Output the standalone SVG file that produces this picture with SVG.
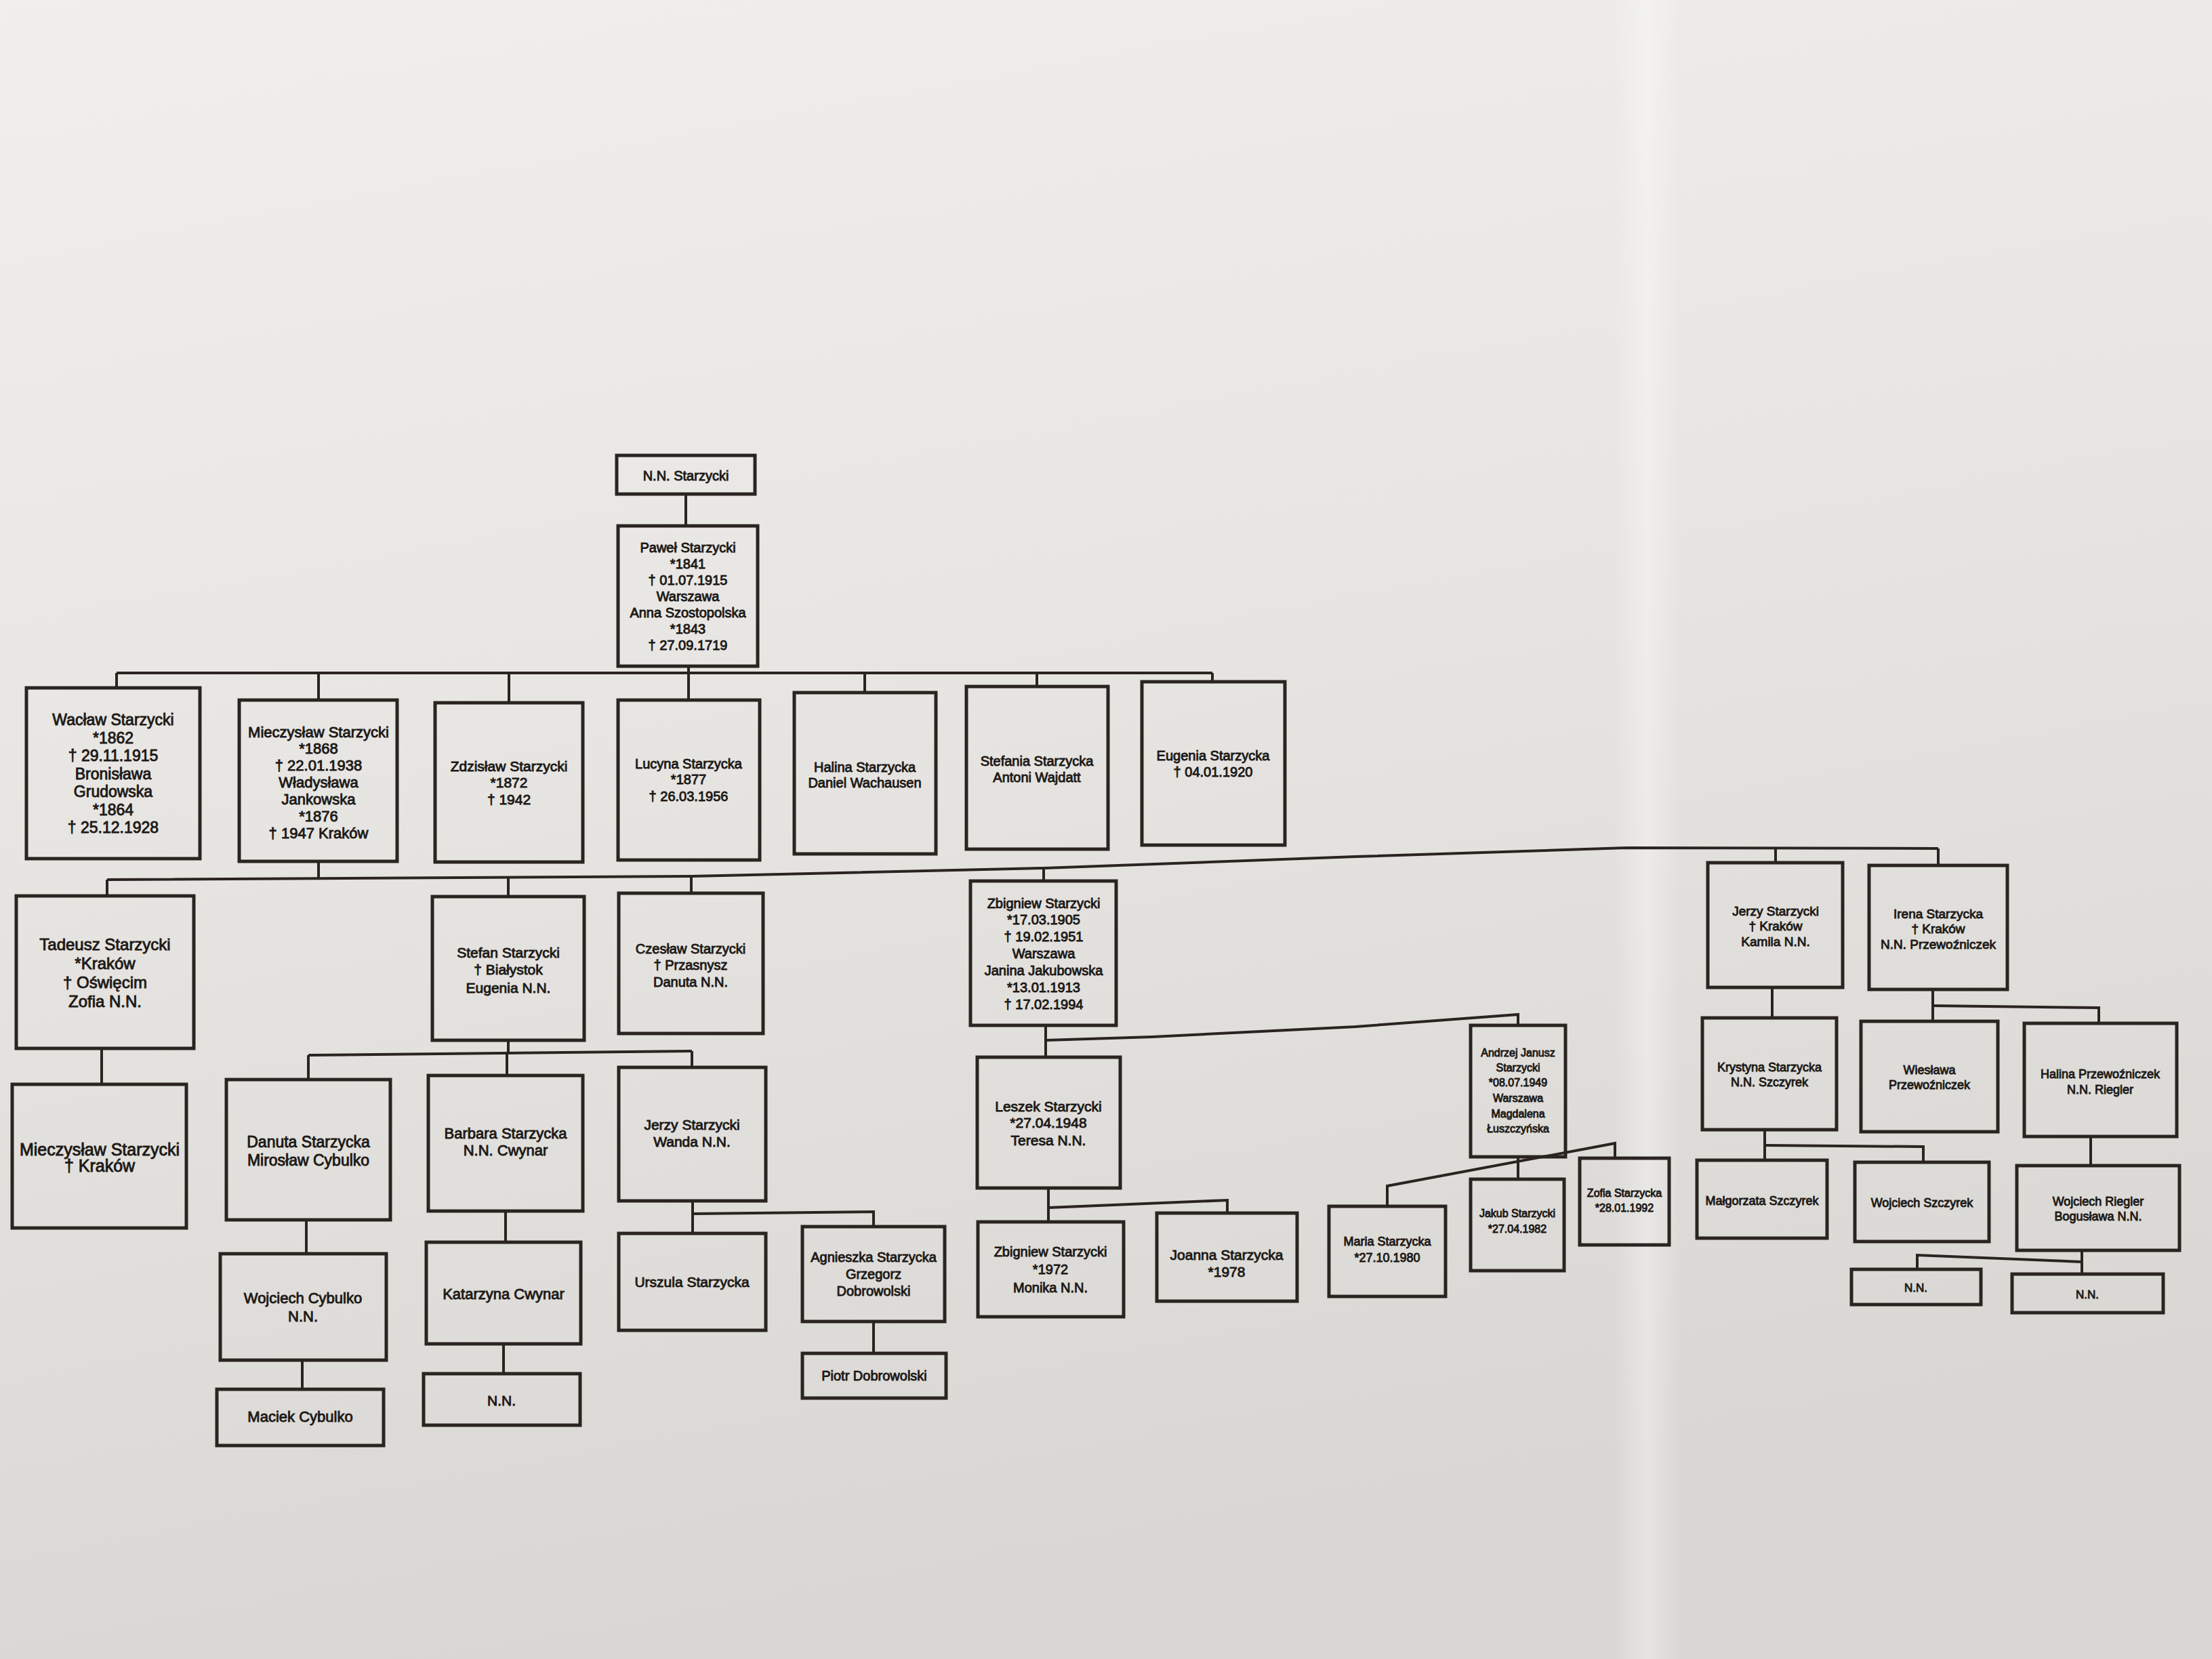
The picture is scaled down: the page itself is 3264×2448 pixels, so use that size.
<svg xmlns="http://www.w3.org/2000/svg" width="3264" height="2448" viewBox="0 0 3264 2448">
<defs>
<linearGradient id="paper" x1="0" y1="0" x2="0.25" y2="1">
<stop offset="0" stop-color="#f0efed"/>
<stop offset="0.45" stop-color="#e8e6e3"/>
<stop offset="1" stop-color="#d9d7d3"/>
</linearGradient>
<linearGradient id="crease" x1="0" y1="0" x2="1" y2="0">
<stop offset="0" stop-color="#ffffff" stop-opacity="0"/>
<stop offset="0.5" stop-color="#ffffff" stop-opacity="0.35"/>
<stop offset="1" stop-color="#ffffff" stop-opacity="0"/>
</linearGradient>
<style>
.box{fill:none;stroke:#2a2420;stroke-width:5;stroke-linejoin:miter}
.ln{fill:none;stroke:#2a2420;stroke-width:4}
text{font-family:"Liberation Sans",Arial,sans-serif;fill:#1c1916;stroke:#1c1916;stroke-width:0.9;text-anchor:middle}
.f16{font-size:16px}.f17{font-size:17px}.f18{font-size:18px}.f19{font-size:19px}.f20{font-size:20px}.f21{font-size:21px}.f22{font-size:22px}.f23{font-size:23px}.f24{font-size:24px}.f25{font-size:25px}
</style>
</defs>
<rect x="0" y="0" width="3264" height="2448" fill="url(#paper)"/>
<rect x="2380" y="0" width="100" height="2448" fill="url(#crease)"/>

<g id="connectors">
<line class="ln" x1="1012" y1="729" x2="1012" y2="776"/>
<line class="ln" x1="1016" y1="983" x2="1016" y2="1033"/>
<line class="ln" x1="172" y1="993" x2="1789" y2="993"/>
<line class="ln" x1="172" y1="993" x2="172" y2="1015"/>
<line class="ln" x1="470" y1="993" x2="470" y2="1033"/>
<line class="ln" x1="751" y1="993" x2="751" y2="1037"/>
<line class="ln" x1="1276" y1="993" x2="1276" y2="1022"/>
<line class="ln" x1="1530" y1="993" x2="1530" y2="1013"/>
<line class="ln" x1="1789" y1="993" x2="1789" y2="1006"/>

<line class="ln" x1="470" y1="1271" x2="470" y2="1296"/>
<polyline class="ln" points="158,1298 1020,1293 1540,1281 2000,1264 2400,1251 2860,1252"/>
<line class="ln" x1="158" y1="1298" x2="158" y2="1322"/>
<line class="ln" x1="750" y1="1294" x2="750" y2="1323"/>
<line class="ln" x1="1020" y1="1293" x2="1020" y2="1318"/>
<line class="ln" x1="1540" y1="1281" x2="1540" y2="1300"/>
<line class="ln" x1="2620" y1="1252" x2="2620" y2="1273"/>
<line class="ln" x1="2860" y1="1252" x2="2860" y2="1277"/>

<line class="ln" x1="150" y1="1547" x2="150" y2="1600"/>
<line class="ln" x1="750" y1="1535" x2="750" y2="1554"/>
<line class="ln" x1="455" y1="1557" x2="1021" y2="1551"/>
<line class="ln" x1="455" y1="1557" x2="455" y2="1593"/>
<line class="ln" x1="748" y1="1554" x2="748" y2="1587"/>
<line class="ln" x1="1021" y1="1551" x2="1021" y2="1575"/>

<line class="ln" x1="1543" y1="1513" x2="1543" y2="1560"/>
<polyline class="ln" points="1543,1535 1700,1530 2000,1515 2240,1497 2240,1513"/>

<line class="ln" x1="2615" y1="1457" x2="2615" y2="1502"/>
<line class="ln" x1="2852" y1="1460" x2="2852" y2="1507"/>
<polyline class="ln" points="2852,1484 3097,1487 3097,1510"/>

<line class="ln" x1="452" y1="1800" x2="452" y2="1850"/>
<line class="ln" x1="746" y1="1787" x2="746" y2="1833"/>
<line class="ln" x1="1022" y1="1772" x2="1022" y2="1820"/>
<polyline class="ln" points="1022,1791 1289,1788 1289,1810"/>

<line class="ln" x1="1547" y1="1753" x2="1547" y2="1803"/>
<polyline class="ln" points="1547,1782 1811,1771 1811,1790"/>

<line class="ln" x1="2240" y1="1707" x2="2240" y2="1740"/>
<polyline class="ln" points="2047,1780 2047,1750 2383,1687 2383,1709"/>

<line class="ln" x1="2604" y1="1667" x2="2604" y2="1712"/>
<polyline class="ln" points="2604,1690 2838,1692 2838,1715"/>
<line class="ln" x1="3085" y1="1677" x2="3085" y2="1720"/>

<line class="ln" x1="446" y1="2007" x2="446" y2="2050"/>
<line class="ln" x1="743" y1="1983" x2="743" y2="2027"/>
<line class="ln" x1="1289" y1="1950" x2="1289" y2="1997"/>
<line class="ln" x1="3072" y1="1845" x2="3072" y2="1880"/>
<polyline class="ln" points="2829,1873 2829,1852 3072,1862"/>
</g>

<g id="nn_top"><rect class="box" x="910" y="672" width="204" height="57"/>
<text class="f20"><tspan x="1012" y="709">N.N. Starzycki</tspan></text></g>

<g id="pawel"><rect class="box" x="912" y="776" width="206" height="207"/>
<text class="f20"><tspan x="1015" y="815">Paweł Starzycki</tspan><tspan x="1015" y="839">*1841</tspan><tspan x="1015" y="863">† 01.07.1915</tspan><tspan x="1015" y="887">Warszawa</tspan><tspan x="1015" y="911">Anna Szostopolska</tspan><tspan x="1015" y="935">*1843</tspan><tspan x="1015" y="959">† 27.09.1719</tspan></text></g>

<g id="waclaw"><rect class="box" x="39" y="1015" width="256" height="252"/>
<text class="f23"><tspan x="167" y="1070">Wacław Starzycki</tspan><tspan x="167" y="1097">*1862</tspan><tspan x="167" y="1123">† 29.11.1915</tspan><tspan x="167" y="1150">Bronisława</tspan><tspan x="167" y="1176">Grudowska</tspan><tspan x="167" y="1203">*1864</tspan><tspan x="167" y="1229">† 25.12.1928</tspan></text></g>

<g id="mieczyslaw"><rect class="box" x="353" y="1033" width="233" height="238"/>
<text class="f22"><tspan x="470" y="1088">Mieczysław Starzycki</tspan><tspan x="470" y="1112">*1868</tspan><tspan x="470" y="1137">† 22.01.1938</tspan><tspan x="470" y="1162">Władysława</tspan><tspan x="470" y="1187">Jankowska</tspan><tspan x="470" y="1212">*1876</tspan><tspan x="470" y="1237">† 1947 Kraków</tspan></text></g>

<g id="zdzislaw"><rect class="box" x="642" y="1037" width="218" height="235"/>
<text class="f21"><tspan x="751" y="1138">Zdzisław Starzycki</tspan><tspan x="751" y="1162">*1872</tspan><tspan x="751" y="1187">† 1942</tspan></text></g>

<g id="lucyna"><rect class="box" x="912" y="1033" width="209" height="236"/>
<text class="f20"><tspan x="1016" y="1134">Lucyna Starzycka</tspan><tspan x="1016" y="1157">*1877</tspan><tspan x="1016" y="1182">† 26.03.1956</tspan></text></g>

<g id="halina"><rect class="box" x="1172" y="1022" width="209" height="238"/>
<text class="f20"><tspan x="1276" y="1139">Halina Starzycka</tspan><tspan x="1276" y="1162">Daniel Wachausen</tspan></text></g>

<g id="stefania"><rect class="box" x="1426" y="1013" width="209" height="240"/>
<text class="f20"><tspan x="1530" y="1130">Stefania Starzycka</tspan><tspan x="1530" y="1154">Antoni Wajdatt</tspan></text></g>

<g id="eugenia"><rect class="box" x="1685" y="1006" width="211" height="241"/>
<text class="f20"><tspan x="1790" y="1122">Eugenia Starzycka</tspan><tspan x="1790" y="1146">† 04.01.1920</tspan></text></g>

<g id="tadeusz"><rect class="box" x="24" y="1322" width="262" height="225"/>
<text class="f24"><tspan x="155" y="1402">Tadeusz Starzycki</tspan><tspan x="155" y="1430">*Kraków</tspan><tspan x="155" y="1458">† Oświęcim</tspan><tspan x="155" y="1486">Zofia N.N.</tspan></text></g>

<g id="stefan"><rect class="box" x="638" y="1323" width="224" height="212"/>
<text class="f21"><tspan x="750" y="1413">Stefan Starzycki</tspan><tspan x="750" y="1438">† Białystok</tspan><tspan x="750" y="1465">Eugenia N.N.</tspan></text></g>

<g id="czeslaw"><rect class="box" x="913" y="1318" width="213" height="207"/>
<text class="f20"><tspan x="1019" y="1407">Czesław Starzycki</tspan><tspan x="1019" y="1431">† Przasnysz</tspan><tspan x="1019" y="1456">Danuta N.N.</tspan></text></g>

<g id="zbigniew"><rect class="box" x="1432" y="1300" width="215" height="213"/>
<text class="f20"><tspan x="1540" y="1340">Zbigniew Starzycki</tspan><tspan x="1540" y="1364">*17.03.1905</tspan><tspan x="1540" y="1389">† 19.02.1951</tspan><tspan x="1540" y="1414">Warszawa</tspan><tspan x="1540" y="1439">Janina Jakubowska</tspan><tspan x="1540" y="1464">*13.01.1913</tspan><tspan x="1540" y="1489">† 17.02.1994</tspan></text></g>

<g id="jerzy_krakow"><rect class="box" x="2520" y="1273" width="199" height="184"/>
<text class="f19"><tspan x="2620" y="1351">Jerzy Starzycki</tspan><tspan x="2620" y="1373">† Kraków</tspan><tspan x="2620" y="1396">Kamila N.N.</tspan></text></g>

<g id="irena"><rect class="box" x="2758" y="1277" width="204" height="183"/>
<text class="f19"><tspan x="2860" y="1355">Irena Starzycka</tspan><tspan x="2860" y="1377">† Kraków</tspan><tspan x="2860" y="1400">N.N. Przewoźniczek</tspan></text></g>

<g id="mieczyslaw_jr"><rect class="box" x="18" y="1600" width="257" height="212"/>
<text class="f25"><tspan x="147" y="1705">Mieczysław Starzycki</tspan><tspan x="147" y="1729">† Kraków</tspan></text></g>

<g id="danuta"><rect class="box" x="334" y="1593" width="242" height="207"/>
<text class="f23"><tspan x="455" y="1693">Danuta Starzycka</tspan><tspan x="455" y="1720">Mirosław Cybulko</tspan></text></g>

<g id="barbara"><rect class="box" x="632" y="1587" width="228" height="200"/>
<text class="f22"><tspan x="746" y="1680">Barbara Starzycka</tspan><tspan x="746" y="1705">N.N. Cwynar</tspan></text></g>

<g id="jerzy_wanda"><rect class="box" x="913" y="1575" width="217" height="197"/>
<text class="f21"><tspan x="1021" y="1667">Jerzy Starzycki</tspan><tspan x="1021" y="1692">Wanda N.N.</tspan></text></g>

<g id="leszek"><rect class="box" x="1442" y="1560" width="211" height="193"/>
<text class="f21"><tspan x="1547" y="1640">Leszek Starzycki</tspan><tspan x="1547" y="1664">*27.04.1948</tspan><tspan x="1547" y="1690">Teresa N.N.</tspan></text></g>

<g id="andrzej"><rect class="box" x="2170" y="1513" width="140" height="194"/>
<text class="f16"><tspan x="2240" y="1559">Andrzej Janusz</tspan><tspan x="2240" y="1581">Starzycki</tspan><tspan x="2240" y="1603">*08.07.1949</tspan><tspan x="2240" y="1626">Warszawa</tspan><tspan x="2240" y="1649">Magdalena</tspan><tspan x="2240" y="1671">Łuszczyńska</tspan></text></g>

<g id="krystyna"><rect class="box" x="2512" y="1502" width="198" height="165"/>
<text class="f18"><tspan x="2611" y="1581">Krystyna Starzycka</tspan><tspan x="2611" y="1603">N.N. Szczyrek</tspan></text></g>

<g id="wieslawa"><rect class="box" x="2746" y="1507" width="202" height="163"/>
<text class="f18"><tspan x="2847" y="1585">Wiesława</tspan><tspan x="2847" y="1607">Przewoźniczek</tspan></text></g>

<g id="halina_p"><rect class="box" x="2987" y="1510" width="225" height="167"/>
<text class="f18"><tspan x="3099" y="1591">Halina Przewoźniczek</tspan><tspan x="3099" y="1614">N.N. Riegler</tspan></text></g>

<g id="wojciech_c"><rect class="box" x="325" y="1850" width="245" height="157"/>
<text class="f22"><tspan x="447" y="1923">Wojciech Cybulko</tspan><tspan x="447" y="1950">N.N.</tspan></text></g>

<g id="katarzyna"><rect class="box" x="629" y="1833" width="228" height="150"/>
<text class="f22"><tspan x="743" y="1917">Katarzyna Cwynar</tspan></text></g>

<g id="urszula"><rect class="box" x="913" y="1820" width="217" height="143"/>
<text class="f21"><tspan x="1021" y="1899">Urszula Starzycka</tspan></text></g>

<g id="agnieszka"><rect class="box" x="1184" y="1810" width="210" height="140"/>
<text class="f20"><tspan x="1289" y="1862">Agnieszka Starzycka</tspan><tspan x="1289" y="1887">Grzegorz</tspan><tspan x="1289" y="1912">Dobrowolski</tspan></text></g>

<g id="zbigniew_jr"><rect class="box" x="1443" y="1803" width="215" height="140"/>
<text class="f20"><tspan x="1550" y="1854">Zbigniew Starzycki</tspan><tspan x="1550" y="1880">*1972</tspan><tspan x="1550" y="1907">Monika N.N.</tspan></text></g>

<g id="joanna"><rect class="box" x="1707" y="1790" width="207" height="130"/>
<text class="f21"><tspan x="1810" y="1859">Joanna Starzycka</tspan><tspan x="1810" y="1884">*1978</tspan></text></g>

<g id="maria"><rect class="box" x="1961" y="1780" width="172" height="133"/>
<text class="f18"><tspan x="2047" y="1838">Maria Starzycka</tspan><tspan x="2047" y="1862">*27.10.1980</tspan></text></g>

<g id="jakub"><rect class="box" x="2170" y="1740" width="138" height="135"/>
<text class="f16"><tspan x="2239" y="1796">Jakub Starzycki</tspan><tspan x="2239" y="1819">*27.04.1982</tspan></text></g>

<g id="zofia"><rect class="box" x="2331" y="1709" width="132" height="128"/>
<text class="f16"><tspan x="2397" y="1766">Zofia Starzycka</tspan><tspan x="2397" y="1788">*28.01.1992</tspan></text></g>

<g id="malgorzata"><rect class="box" x="2504" y="1712" width="192" height="115"/>
<text class="f18"><tspan x="2600" y="1778">Małgorzata Szczyrek</tspan></text></g>

<g id="wojciech_s"><rect class="box" x="2737" y="1715" width="198" height="117"/>
<text class="f18"><tspan x="2836" y="1781">Wojciech Szczyrek</tspan></text></g>

<g id="wojciech_r"><rect class="box" x="2976" y="1720" width="240" height="125"/>
<text class="f18"><tspan x="3096" y="1779">Wojciech Riegler</tspan><tspan x="3096" y="1801">Bogusława N.N.</tspan></text></g>

<g id="maciek"><rect class="box" x="320" y="2050" width="246" height="83"/>
<text class="f22"><tspan x="443" y="2098">Maciek Cybulko</tspan></text></g>

<g id="nn_cwynar"><rect class="box" x="625" y="2027" width="231" height="76"/>
<text class="f21"><tspan x="740" y="2074">N.N.</tspan></text></g>

<g id="piotr"><rect class="box" x="1184" y="1997" width="212" height="66"/>
<text class="f20"><tspan x="1290" y="2037">Piotr Dobrowolski</tspan></text></g>

<g id="nn_riegler1"><rect class="box" x="2732" y="1873" width="191" height="52"/>
<text class="f17"><tspan x="2827" y="1906">N.N.</tspan></text></g>

<g id="nn_riegler2"><rect class="box" x="2969" y="1880" width="223" height="57"/>
<text class="f17"><tspan x="3080" y="1916">N.N.</tspan></text></g>
</svg>
